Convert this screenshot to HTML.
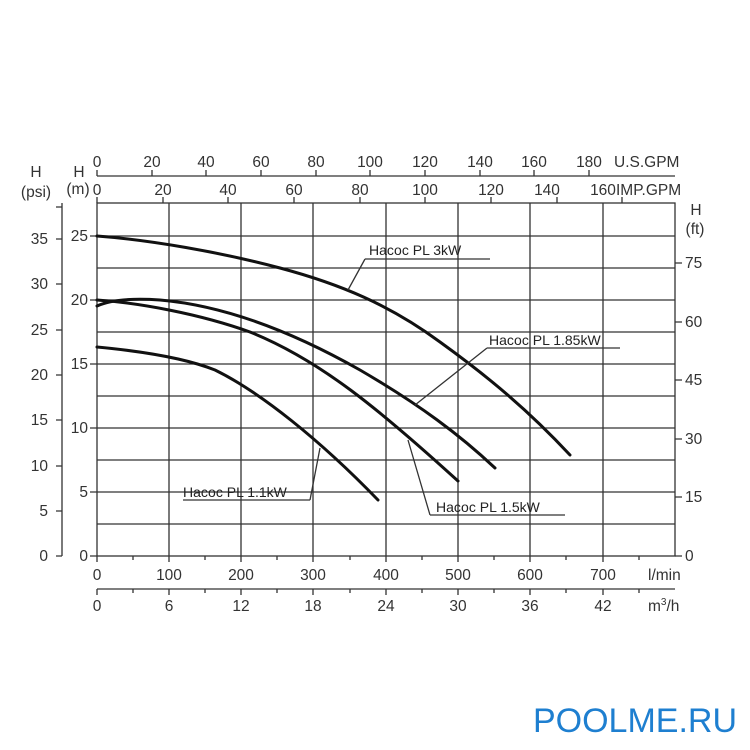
<!DOCTYPE html>
<html><head><meta charset="utf-8"><style>
html,body{margin:0;padding:0;background:#fff;}
svg{display:block;font-family:"Liberation Sans",sans-serif;}
</style></head><body>
<svg width="750" height="750" viewBox="0 0 750 750" xmlns="http://www.w3.org/2000/svg">
<g stroke="#333" stroke-width="1.3" fill="none">
<rect x="97" y="203" width="578" height="353"/>
<path d="M169 203V556M241 203V556M313 203V556M386 203V556M458 203V556M530 203V556M603 203V556"/>
<path d="M97 236H675M97 268H675M97 300H675M97 332H675M97 364H675M97 396H675M97 428H675M97 460H675M97 492H675M97 524H675"/>
<path d="M90 236H97M90 300H97M90 364H97M90 428H97M90 492H97M90 556H97"/>
<path d="M62 203V556M56 556H62M56 511H62M56 466H62M56 420H62M56 375H62M56 330H62M56 284H62M56 239H62M56 207H62"/>
<path d="M675 497H682M675 439H682M675 380H682M675 322H682M675 263H682M675 556H682"/>
<path d="M97 176H675M97 176V170M152 176V170M206 176V170M261 176V170M316 176V170M370 176V170M425 176V170M480 176V170M534 176V170M589 176V170"/>
<path d="M97 203V197M163 203V197M228 203V197M294 203V197M360 203V197M425 203V197M491 203V197M557 203V197M622 203V197"/>
<path d="M97 556V562M133 556V560M169 556V562M205 556V560M241 556V562M277 556V560M313 556V562M350 556V560M386 556V562M422 556V560M458 556V562M494 556V560M530 556V562M566 556V560M603 556V562M639 556V560"/>
<path d="M97 589H675M97 589V595M133 589V593M169 589V595M205 589V593M241 589V595M277 589V593M313 589V595M350 589V593M386 589V595M422 589V593M458 589V595M494 589V593M530 589V595M566 589V593M603 589V595M639 589V593"/>
</g>
<g stroke="#111" stroke-width="3" fill="none" stroke-linecap="round">
<path d="M97 236 C150 240 220 252 280 268 C340 284 390 305 440 342 C490 378 530 412 570 455"/>
<path d="M97 306 C110 300 130 298 160 300 C230 306 300 336 360 370 C420 405 460 435 495 468"/>
<path d="M97 300 C140 303 200 314 250 332 C320 360 380 410 458 481"/>
<path d="M97 347 C150 352 190 360 215 370 C260 392 320 440 378 500"/>
</g>
<g stroke="#333" stroke-width="1.3" fill="none">
<path d="M365 259H490M365 259L348 290"/>
<path d="M487 348H620M487 348L415 405"/>
<path d="M430 515H565M430 515L408 440"/>
<path d="M183 500H310M310 500L320 448"/>
</g>
<g font-size="14" fill="#222">
<text x="369" y="255">Насос PL 3kW</text>
<text x="489" y="345">Насос PL 1.85kW</text>
<text x="436" y="512">Насос PL 1.5kW</text>
<text x="183" y="497">Насос PL 1.1kW</text>
</g>
<g font-size="15.5" fill="#333">
<text x="36" y="177" text-anchor="middle">H</text>
<text x="36" y="197" text-anchor="middle">(psi)</text>
<text x="79" y="177" text-anchor="middle">H</text>
<text x="78" y="194" text-anchor="middle">(m)</text>
<text x="696" y="215" text-anchor="middle">H</text>
<text x="695" y="234" text-anchor="middle">(ft)</text>
<g text-anchor="end">
<text x="48" y="561">0</text><text x="48" y="516">5</text><text x="48" y="471">10</text><text x="48" y="425">15</text><text x="48" y="380">20</text><text x="48" y="335">25</text><text x="48" y="289">30</text><text x="48" y="244">35</text>
<text x="88" y="561">0</text><text x="88" y="497">5</text><text x="88" y="433">10</text><text x="88" y="369">15</text><text x="88" y="305">20</text><text x="88" y="241">25</text>
</g>
<g>
<text x="685" y="561">0</text><text x="685" y="502">15</text><text x="685" y="444">30</text><text x="685" y="385">45</text><text x="685" y="327">60</text><text x="685" y="268">75</text>
</g>
<g text-anchor="middle">
<text x="97" y="167">0</text><text x="152" y="167">20</text><text x="206" y="167">40</text><text x="261" y="167">60</text><text x="316" y="167">80</text><text x="370" y="167">100</text><text x="425" y="167">120</text><text x="480" y="167">140</text><text x="534" y="167">160</text><text x="589" y="167">180</text>
<text x="97" y="195">0</text><text x="163" y="195">20</text><text x="228" y="195">40</text><text x="294" y="195">60</text><text x="360" y="195">80</text><text x="425" y="195">100</text><text x="491" y="195">120</text><text x="547" y="195">140</text><text x="603" y="195">160</text>
</g>
<text x="614" y="167">U.S.GPM</text>
<text x="616" y="195">IMP.GPM</text>
<g text-anchor="middle">
<text x="97" y="580">0</text><text x="169" y="580">100</text><text x="241" y="580">200</text><text x="313" y="580">300</text><text x="386" y="580">400</text><text x="458" y="580">500</text><text x="530" y="580">600</text><text x="603" y="580">700</text>
<text x="97" y="611">0</text><text x="169" y="611">6</text><text x="241" y="611">12</text><text x="313" y="611">18</text><text x="386" y="611">24</text><text x="458" y="611">30</text><text x="530" y="611">36</text><text x="603" y="611">42</text>
</g>
<text x="648" y="580">l/min</text>
<text x="648" y="611">m<tspan font-size="10" dy="-6">3</tspan><tspan dy="6">/h</tspan></text>
</g>
<text x="635" y="732" text-anchor="middle" font-size="34" fill="#1e7fd0">POOLME.RU</text>
</svg>
</body></html>
